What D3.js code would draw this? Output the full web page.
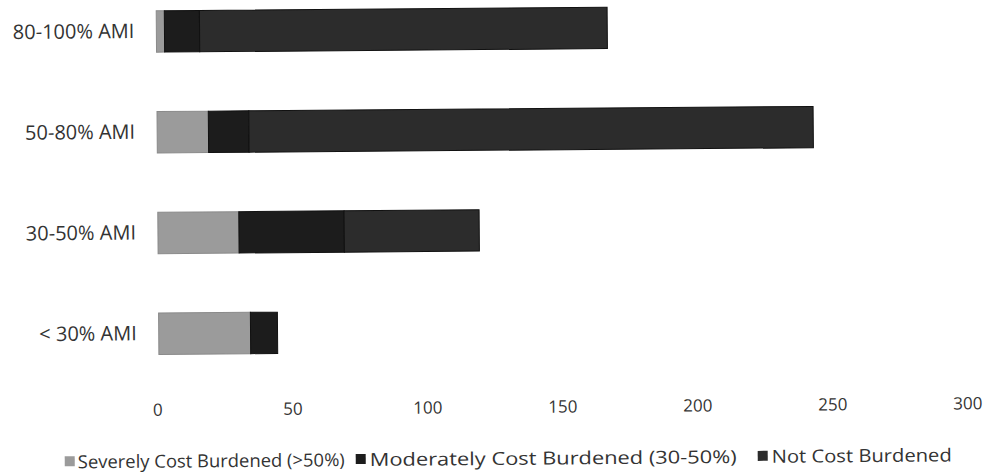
<!DOCTYPE html>
<html>
<head>
<meta charset="utf-8">
<script src="https://cdn.jsdelivr.net/npm/d3@7"></script>
<style>
  html, body { margin: 0; padding: 0; background: #fff; }
  svg { display: block; }
  text { font-family: "Open Sans", "Noto Sans", sans-serif; fill: #333; }
</style>
</head>
<body>
<svg id="chart" width="984" height="476"></svg>
<script>
// Households by income band (top to bottom) and cost burden
const categories = ["80-100% AMI", "50-80% AMI", "30-50% AMI", "< 30% AMI"];
const seriesNames = ["Severely Cost Burdened (>50%)", "Moderately Cost Burdened (30-50%)", "Not Cost Burdened"];
const severe = [3, 19, 30, 34];
const moderate = [13, 15, 39, 10];
const notBurdened = [151, 209, 50, 0];
const xTicks = [0, 50, 100, 150, 200, 250, 300];
const colors = ["#9b9b9b", "#1c1c1c", "#2c2c2c"];

const svg = d3.select("#chart");
const root = svg.append("g").attr("transform", "rotate(-0.45 490 238)");

const x = d3.scaleLinear().domain([0, 300]).range([158, 968]);
const y = d3.scaleBand().domain(categories).range([-22, 382]).paddingInner(0.59).paddingOuter(0.3);

const rows = categories.map((c, i) => ({ cat: c, vals: [severe[i], moderate[i], notBurdened[i]] }));
const stacked = d3.stack().keys([0, 1, 2]).value((d, k) => d.vals[k])(rows);

stacked.forEach((layer, k) => {
  root.append("g").selectAll("rect")
    .data(layer.filter(d => d[1] > d[0]))
    .join("rect")
    .attr("x", d => x(d[0]))
    .attr("y", d => y(d.data.cat))
    .attr("width", d => x(d[1]) - x(d[0]))
    .attr("height", y.bandwidth())
    .attr("fill", colors[k])
    .attr("stroke", k === 0 ? "#8a8a8a" : "#111")
    .attr("stroke-width", 1);
});

// category labels
const yAxis = d3.axisLeft(y).tickSize(0).tickPadding(22);
const yg = root.append("g").attr("transform", `translate(${x(0)},0)`).call(yAxis);
yg.select(".domain").remove();
yg.selectAll("text").style("font-size", "20px").style("fill", "#333");

// value axis labels
const xAxis = d3.axisBottom(x).tickValues(xTicks).tickSize(0).tickPadding(0);
const xg = root.append("g").attr("transform", "translate(-2,401)").call(xAxis);
xg.select(".domain").remove();
xg.selectAll("text").style("font-size", "17px").style("fill", "#333");

// legend
const legendItems = [
  { name: seriesNames[0], color: colors[0], sx: 63, tx: 76, tw: 267 },
  { name: seriesNames[1], color: colors[1], sx: 354, tx: 368, tw: 367 },
  { name: seriesNames[2], color: colors[2], sx: 756, tx: 770, tw: 180 }
];
const lg = root.append("g");
legendItems.forEach(it => {
  lg.append("rect").attr("x", it.sx).attr("y", 453).attr("width", 10).attr("height", 10)
    .attr("fill", it.color);
  lg.append("text").attr("x", it.tx).attr("y", 465)
    .attr("textLength", it.tw).attr("lengthAdjust", "spacingAndGlyphs")
    .style("font-size", "18px").text(it.name);
});
</script>
</body>
</html>
